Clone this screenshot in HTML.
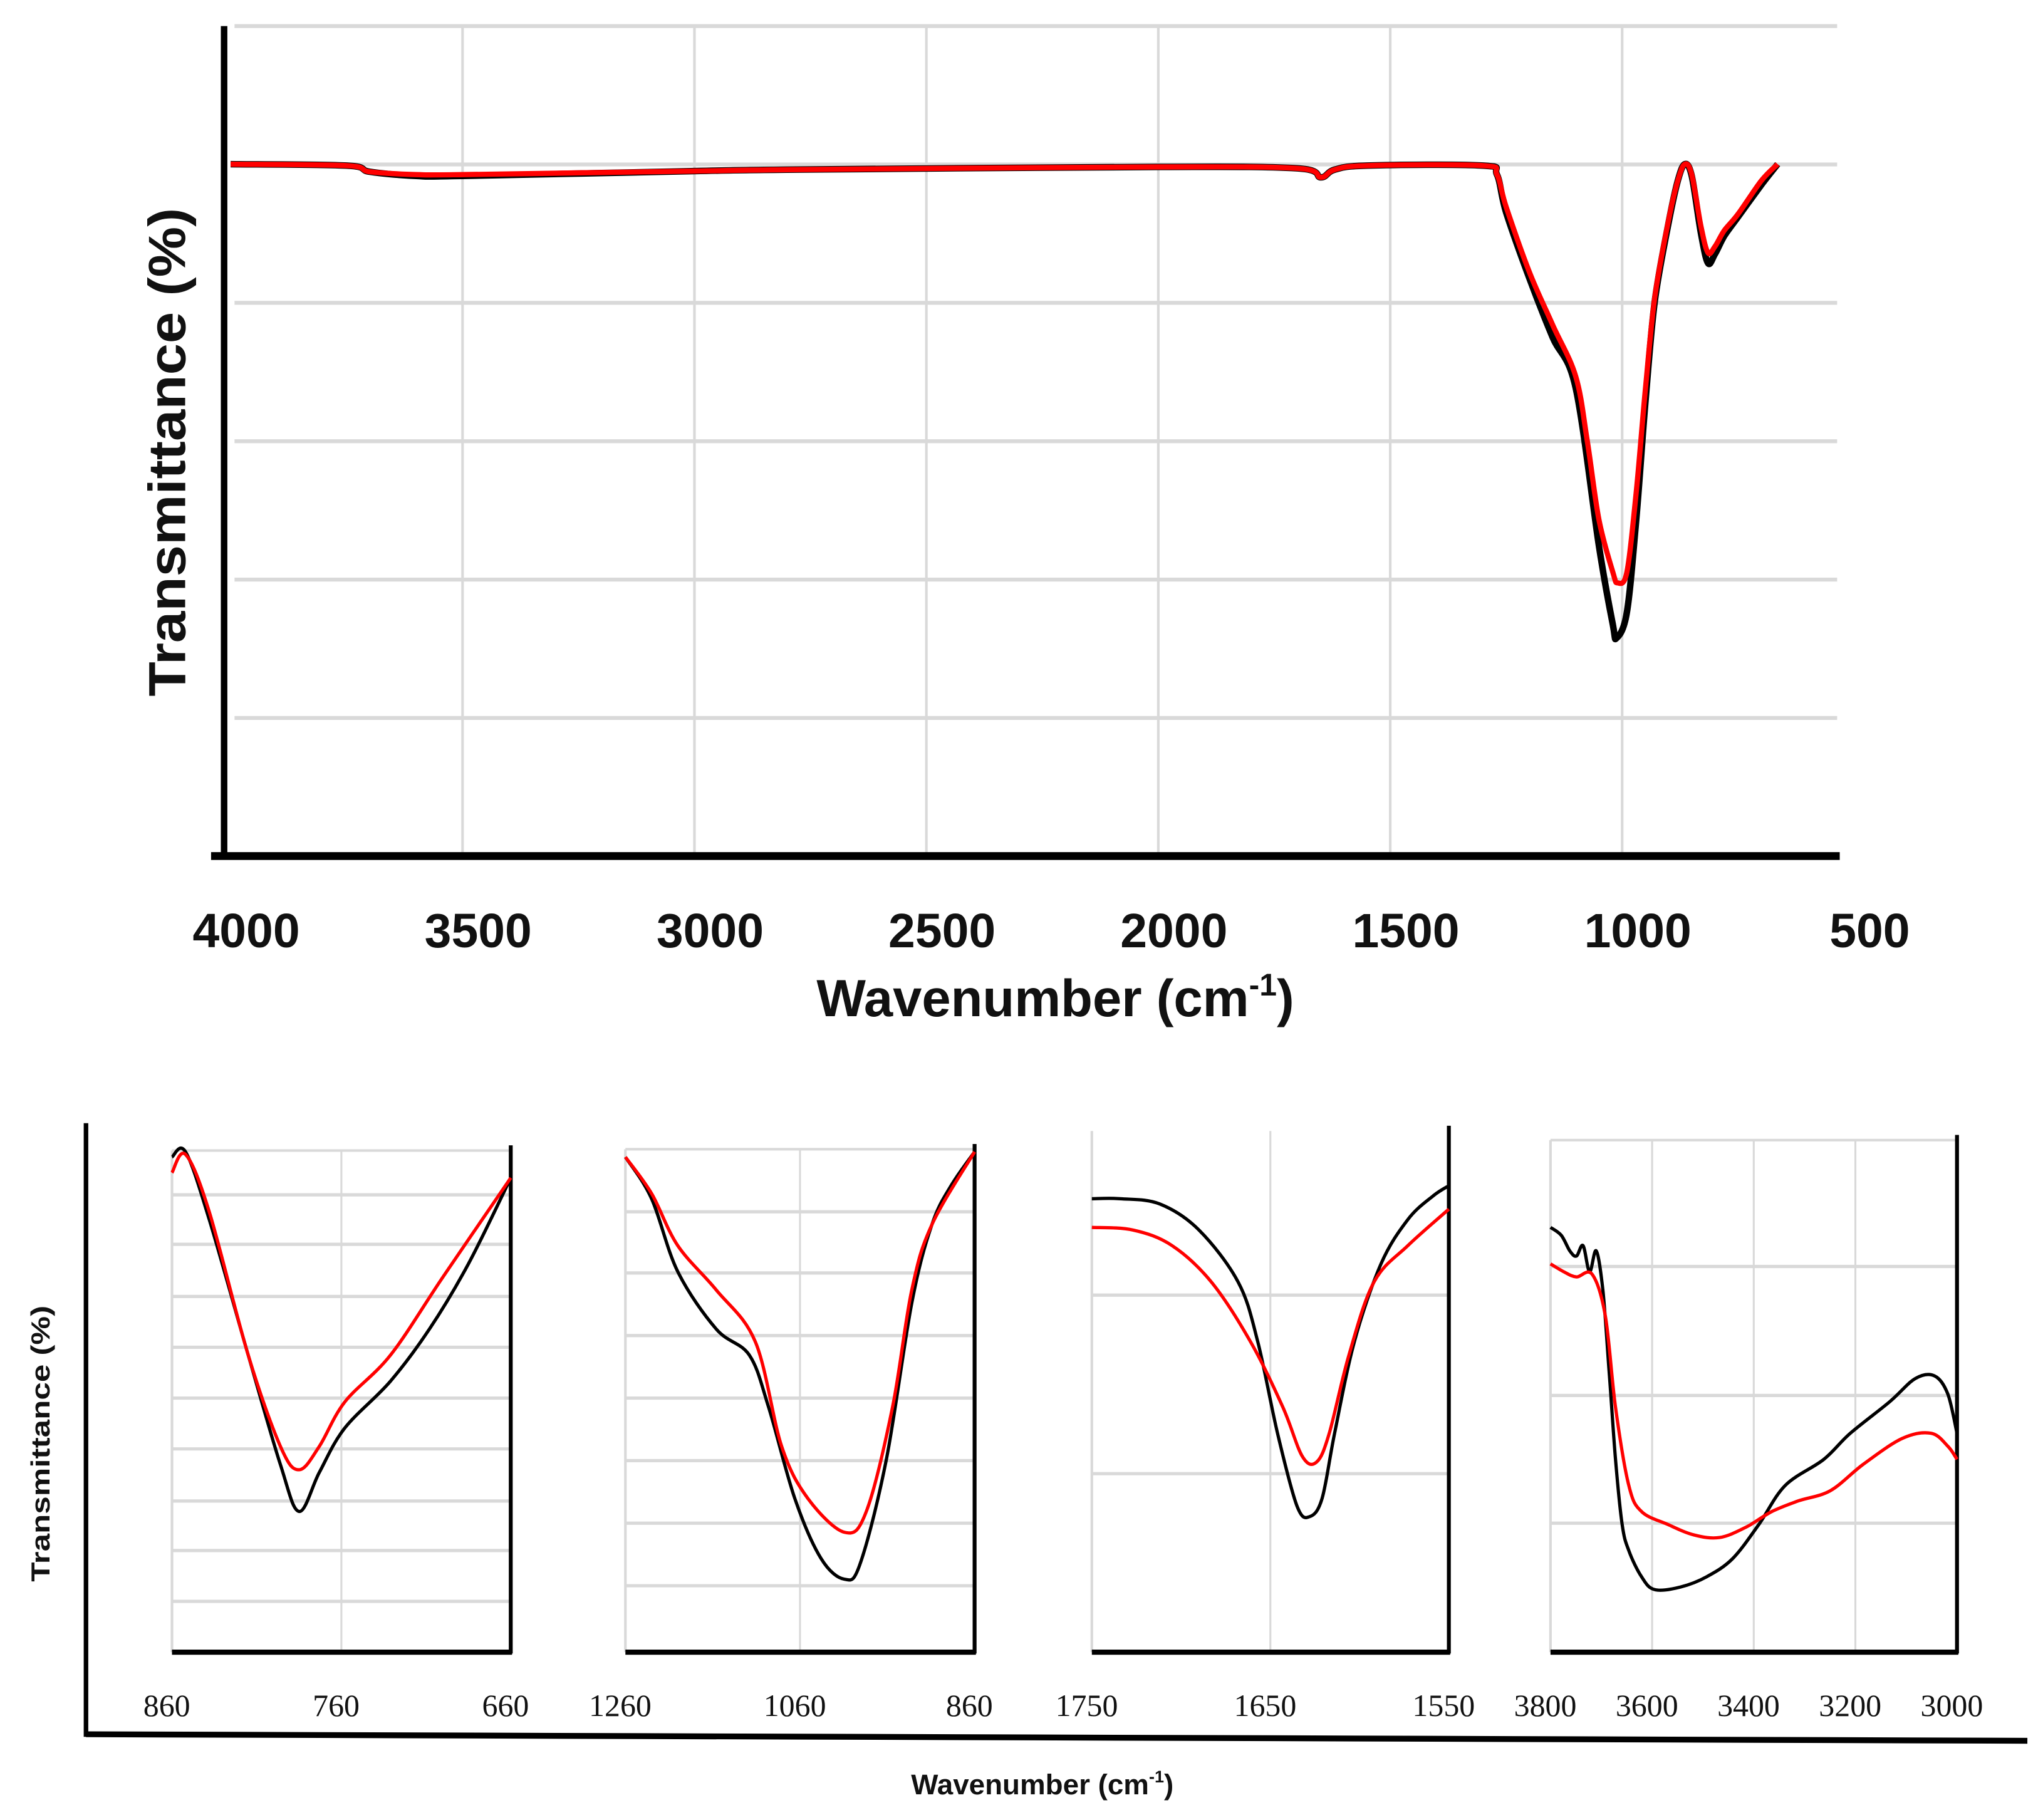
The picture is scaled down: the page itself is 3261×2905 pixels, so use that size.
<!DOCTYPE html>
<html><head><meta charset="utf-8"><style>html,body{margin:0;padding:0;background:#fff}svg{display:block}</style></head>
<body>
<svg id="fig" width="3261" height="2905" viewBox="0 0 1568 1396.8" xmlns="http://www.w3.org/2000/svg" font-family="'Liberation Sans', sans-serif"></svg>
<script>
// ===== Main spectrum data (wavenumber cm-1, transmittance arbitrary %) =====
const mainTicks = [4000, 3500, 3000, 2500, 2000, 1500, 1000, 500];
const mainRedW = [4000,3750,3700,3600,3500,3000,2800,2000,1700,1650,1620,1550,1300,1270,1250,1200,1150,1100,1075,1050,1020,1010,990,970,950,930,900,880,865,850,830,815,800,780,750,700,665];
const mainRedT = [100,99.8,98.9,98.5,98.5,99,99.2,99.6,99.4,98.1,99.2,99.8,99.8,98.5,93.8,84.4,76.8,69.3,59.9,48.6,41,39.5,41,52.4,67.4,80.6,91.9,97.6,100,98.5,91,87.2,88.1,90.4,92.8,97.6,100];
const mainBlackW = [4000,3750,3700,3600,3500,3000,2800,2000,1700,1650,1620,1550,1300,1270,1250,1200,1150,1100,1050,1020,1012,990,970,950,930,900,880,865,850,830,815,800,780,750,700,665];
const mainBlackT = [100,99.8,98.9,98.3,98.3,99,99.2,99.6,99.4,98.1,99.2,99.8,99.8,98.5,93,83.5,75,67.6,44.8,33.4,31.5,35.2,48.4,65.5,80,91.5,97.6,100,98.3,90,85.7,87,89.6,92.4,97,100];

// ===== Zoom panels =====
const p1Ticks = [860, 760, 660];
const p1BW = [860,852,838,815,796,785,773,758,731,708,685,660];
const p1BT = [95,96,83,57,36,27,34.5,43,52,62,74.5,91];
const p1RW = [860,852,838,815,796,785,773,758,731,700,660];
const p1RT = [92,95.5,84.5,57,39.5,35,39.5,48,57,72,91];

const p2Ticks = [1260, 1060, 860];
const p2BW = [1260,1230,1200,1156,1118,1096,1066,1036,1009,991,961,932,909,887,860];
const p2BT = [95,87,73,62,57,47,29.5,18,14,17,37,67,82,89.5,96];
const p2RW = [1260,1230,1200,1156,1111,1081,1051,1009,984,954,932,909,860];
const p2RT = [95,88,78,69.5,59.5,39.5,29.5,23,27,47,69.5,82,96];

const p3Ticks = [1750, 1650, 1550];
const p3BW = [1750,1734,1712,1690,1668,1657,1646,1635,1628,1621,1614,1603,1588,1573,1559,1550];
const p3BT = [87,87,86,81,71,59.5,42,28,26,29.5,42,59.5,74.5,83,87.5,89.5];
const p3RW = [1750,1727,1705,1683,1661,1643,1632,1624,1617,1606,1592,1573,1550];
const p3RT = [81.5,81,78,71,59.5,47,37.5,36.5,42,57,71,78,85];

const p4Ticks = [3800, 3600, 3400, 3200, 3000];
const p4BW = [3800,3779,3762,3749,3736,3723,3710,3697,3685,3672,3659,3646,3621,3595,3544,3492,3441,3390,3338,3262,3210,3133,3082,3044,3018,3000];
const p4BT = [81.5,80,77,76,78,73,77,69.5,54.5,37,24.5,19.5,14.5,12,12.5,14.5,18,24.5,32,37,42,48,52.5,53,49.5,42];
const p4RW = [3800,3774,3749,3718,3692,3672,3646,3621,3569,3518,3467,3415,3364,3313,3249,3185,3108,3051,3018,3000];
const p4RT = [74.5,73,72,72.5,64.5,47,32,27,24.5,22.5,22,24,27,29,31,36,41,42,39.5,37];

const NS = 'http://www.w3.org/2000/svg';
const svg = document.getElementById('fig');
function el(tag, attrs, parent){const e=document.createElementNS(NS,tag);for(const k in attrs)e.setAttribute(k,attrs[k]);(parent||svg).appendChild(e);return e;}
function pathD(ws, ts, fx, fy){
  const P = ws.map((w,i)=>[fx(w), fy(ts[i])]);
  let d = 'M' + P[0][0].toFixed(1) + ',' + P[0][1].toFixed(1);
  for (let i = 0; i < P.length - 1; i++) {
    const p0 = P[Math.max(0,i-1)], p1 = P[i], p2 = P[i+1], p3 = P[Math.min(P.length-1,i+2)];
    const k = 1/6;
    const c1 = [p1[0] + (p2[0]-p0[0])*k, p1[1] + (p2[1]-p0[1])*k];
    const c2 = [p2[0] - (p3[0]-p1[0])*k, p2[1] - (p3[1]-p1[1])*k];
    d += ' C' + c1[0].toFixed(1)+','+c1[1].toFixed(1)+' '+c2[0].toFixed(1)+','+c2[1].toFixed(1)+' '+p2[0].toFixed(1)+','+p2[1].toFixed(1);
  }
  return d;
}

// ---- main chart ----
const mX = w => 177 + (4000 - w) * 178 / 500;
const mY = t => 657 - t * 5.31;
const gMain = el('g', {});


for (let i = 0; i < 6; i++) {
  const y = 20 + i * 106.2;
  const gl = el('line', {x1:180, x2:1410, y1:y, y2:y, stroke:'#d9d9d9', 'stroke-width':3}, gMain);
  
  
}
mainTicks.forEach(w => {
  if (w < 4000 && w > 500) {
    const gl = el('line', {x1:mX(w), x2:mX(w), y1:20, y2:657, stroke:'#d9d9d9', 'stroke-width':2}, gMain);
    
    
  }
  const t = el('text', {x:mX(w)+12, y:727, 'font-size':37, 'font-weight':'bold', 'text-anchor':'middle', fill:'#111'}, gMain);
  t.textContent = w;
  
  
});
const ya = el('line', {x1:172, x2:172, y1:20, y2:658, stroke:'#000', 'stroke-width':5}, gMain);


const xa = el('line', {x1:162, x2:1412, y1:657, y2:657, stroke:'#000', 'stroke-width':6}, gMain);


const mb = el('path', {d:pathD(mainBlackW, mainBlackT, mX, mY), fill:'none', stroke:'#000', 'stroke-width':5, 'stroke-linejoin':'round'}, gMain);


const mr = el('path', {d:pathD(mainRedW, mainRedT, mX, mY), fill:'none', stroke:'#f00', 'stroke-width':4, 'stroke-linejoin':'round'}, gMain);


const mxt = el('text', {x:810, y:780, 'font-size':40, 'font-weight':'bold', 'text-anchor':'middle', fill:'#111'}, gMain);
mxt.innerHTML = 'Wavenumber (cm<tspan font-size="24" dy="-16">-1</tspan><tspan dy="16">)</tspan>';


const myt = el('text', {x:0, y:0, 'font-size':40, 'font-weight':'bold', 'text-anchor':'middle', fill:'#111', transform:'translate(142,347) rotate(-90)', textLength:375, lengthAdjust:'spacingAndGlyphs'}, gMain);
myt.textContent = 'Transmittance (%)';



// ---- zoom panels ----
const panels = [
  {name:'panel-1', x0:132, x1:392, wa:860, wb:660, top:883, grid:[917,955,995,1034,1073,1112,1152,1190,1229], topLine:true, ticks:p1Ticks, bw:p1BW, bt:p1BT, rw:p1RW, rt:p1RT},
  {name:'panel-2', x0:480, x1:748, wa:1260, wb:860, top:882, grid:[930,977,1025,1073,1121,1169,1217], topLine:true, ticks:p2Ticks, bw:p2BW, bt:p2BT, rw:p2RW, rt:p2RT},
  {name:'panel-3', x0:838, x1:1112, wa:1750, wb:1550, top:868, grid:[994,1131], topLine:false, ticks:p3Ticks, bw:p3BW, bt:p3BT, rw:p3RW, rt:p3RT},
  {name:'panel-4', x0:1190, x1:1502, wa:3800, wb:3000, top:875, grid:[972,1071,1169], topLine:true, ticks:p4Ticks, bw:p4BW, bt:p4BT, rw:p4RW, rt:p4RT}
];
const pY = t => 1268 - t * 4;
panels.forEach(p => {
  const g = el('g', {});
  
  
  const fx = w => p.x0 + (p.wa - w) * (p.x1 - p.x0) / (p.wa - p.wb);
  p.grid.forEach(y => {
    const gl = el('line', {x1:p.x0, x2:p.x1, y1:y, y2:y, stroke:'#d9d9d9', 'stroke-width':2.5}, g);
    
    
  });
  if (p.topLine) {
    const tl = el('line', {x1:p.x0, x2:p.x1, y1:p.top, y2:p.top, stroke:'#d9d9d9', 'stroke-width':2}, g);
    
    
  }
  const ll = el('line', {x1:p.x0, x2:p.x0, y1:p.top, y2:1268, stroke:'#d9d9d9', 'stroke-width':2}, g);
  
  
  p.ticks.forEach((w, i) => {
    if (i > 0 && i < p.ticks.length - 1) {
      const vl = el('line', {x1:fx(w), x2:fx(w), y1:p.top, y2:1268, stroke:'#d9d9d9', 'stroke-width':1.5}, g);
      
      
    }
    const t = el('text', {x:fx(w) - 4, y:1317, 'font-size':24, 'text-anchor':'middle', fill:'#111', 'font-family':"'Liberation Serif', serif"}, g);
    t.textContent = w;
    
    
  });
  const rb = el('line', {x1:p.x1, x2:p.x1, y1:p.top - 4, y2:1269, stroke:'#000', 'stroke-width':3}, g);
  
  
  const ba = el('line', {x1:p.x0, x2:p.x1 + 1, y1:1268, y2:1268, stroke:'#000', 'stroke-width':4}, g);
  
  
  const b = el('path', {d:pathD(p.bw, p.bt, fx, pY), fill:'none', stroke:'#000', 'stroke-width':2.5, 'stroke-linejoin':'round'}, g);
  
  
  const r = el('path', {d:pathD(p.rw, p.rt, fx, pY), fill:'none', stroke:'#f00', 'stroke-width':2.5, 'stroke-linejoin':'round'}, g);
  
  
});
const oy = el('line', {x1:66, x2:66, y1:862, y2:1333, stroke:'#000', 'stroke-width':3.5});


const ox = el('line', {x1:66, x2:1556, y1:1331, y2:1336, stroke:'#000', 'stroke-width':4.5});


const bxt = el('text', {x:800, y:1377, 'font-size':22, 'font-weight':'bold', 'text-anchor':'middle', fill:'#111'});
bxt.innerHTML = 'Wavenumber (cm<tspan font-size="13" dy="-9">-1</tspan><tspan dy="9">)</tspan>';


const byt = el('text', {x:0, y:0, 'font-size':20, 'font-weight':'bold', 'text-anchor':'middle', fill:'#111', transform:'translate(38,1108) rotate(-90)', textLength:212, lengthAdjust:'spacingAndGlyphs'});
byt.textContent = 'Transmittance (%)';


</script>
</body></html>
